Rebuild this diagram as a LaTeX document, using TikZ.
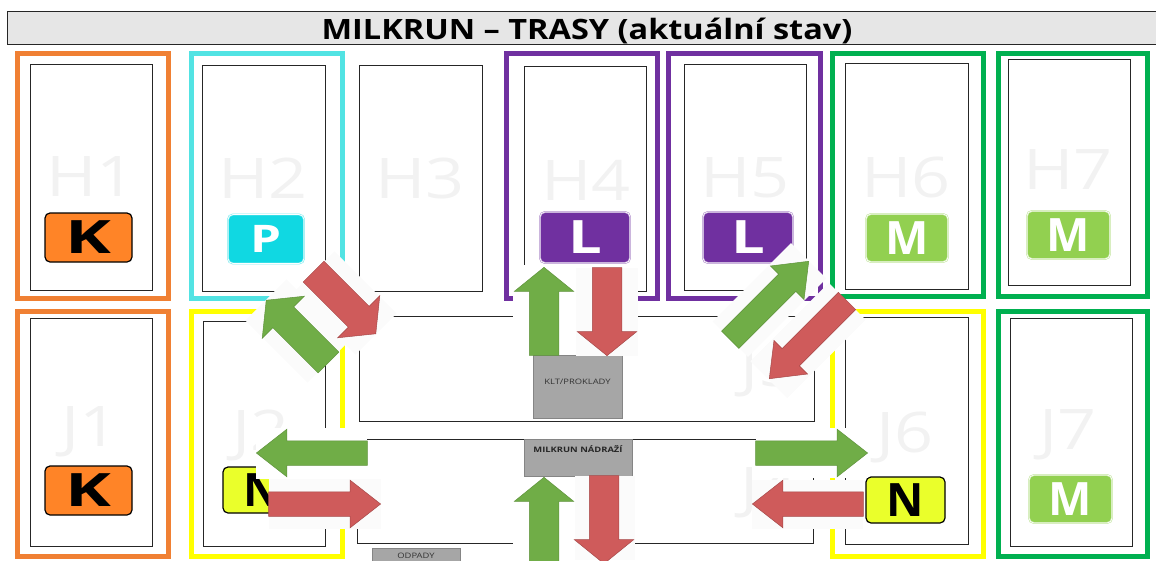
\documentclass[tikz,border=0pt]{standalone}
\usepackage{xcolor}
\usepackage{fontspec}
\setmainfont{Open Sans}
\newfontfamily\titlefont[FakeStretch=1.16]{Open Sans}
\newfontfamily\hallfont[FakeStretch=1.22]{Open Sans}
\newfontfamily\depotfont[FakeStretch=1.25]{Open Sans}
\newfontfamily\kfont[FakeStretch=1.5]{Open Sans}
\newfontfamily\lfont[FakeStretch=1.3]{Open Sans}
\usetikzlibrary{shapes.arrows}
\definecolor{headfill}{HTML}{E6E6E6}
\definecolor{ktrack}{HTML}{F08033}
\definecolor{ptrack}{HTML}{52E3E3}
\definecolor{ltrack}{HTML}{7030A0}
\definecolor{mtrack}{HTML}{00B050}
\definecolor{ntrack}{HTML}{FFFF00}
\definecolor{kfill}{HTML}{FF8427}
\definecolor{pfill}{HTML}{10D8E2}
\definecolor{mfill}{HTML}{92D050}
\definecolor{nfill}{HTML}{EAFF2B}
\definecolor{arrgreen}{HTML}{70AD47}
\definecolor{arrred}{HTML}{CF5B5B}
\definecolor{halo}{HTML}{FBFBFB}
\definecolor{depot}{HTML}{A6A6A6}
\tikzset{
  track/.style={draw=#1,line width=5pt},
  hall/.style={draw=black!85,line width=1pt},
  faint/.style={text=black!5,font=\hallfont\fontsize{56}{56}\selectfont,inner sep=0pt},
  badge/.style={rounded corners=5pt,minimum height=#1,inner sep=0pt,
    font=\fontsize{46}{46}\selectfont\bfseries},
  badge/.default=49pt,
  darkrim/.style={fill=#1,draw=black,line width=1.2pt},
  lightrim/.style={fill=#1,draw=#1!55,text=white,line width=0.6pt,double=white,double distance=0.7pt},
  patch/.style={fill=halo,inner sep=0pt},
  widearrow/.style={single arrow,anchor=tip,inner xsep=0pt,inner ysep=14.5pt,minimum width=59pt,
    single arrow head extend=15pt,single arrow tip angle=102,line width=0.5pt},
  longarrow/.style={single arrow,anchor=tip,inner xsep=0pt,inner ysep=12pt,minimum width=47pt,
    single arrow head extend=11.5pt,single arrow tip angle=76,line width=0.5pt},
  goup/.style={fill=arrgreen,draw=arrgreen!85!black},
  godown/.style={fill=arrred,draw=arrred!80!black},
  depotbox/.style={fill=depot,draw=depot!80!black,line width=1pt,inner sep=0pt},
  depottext/.style={inner sep=0pt,text=black!80,font=\depotfont\fontsize{7.5}{8}\selectfont},
}
\begin{document}
\begin{tikzpicture}[x=1pt,y=-1pt]
  \useasboundingbox (0,0) rectangle (1156,560);
  \clip (0,0) rectangle (1156,560);
  % header
  \draw[fill=headfill,draw=black!85,line width=1pt] (7,11) rectangle (1157,44);
  \node[inner sep=0pt,font=\titlefont\fontsize{28}{28}\selectfont\bfseries] (title) at (587,31) {MILKRUN – TRASY (aktuální stav)};
  % coloured tracks round the halls
  \draw[track=ktrack] (17.5,53) rectangle (168.5,298);
  \draw[track=ptrack] (191.5,53) rectangle (342.5,298);
  \draw[track=ltrack] (506.5,53) rectangle (657,298);
  \draw[track=ltrack] (668.5,53) rectangle (820,298);
  \draw[track=mtrack] (832.5,53) rectangle (983.5,296);
  \draw[track=mtrack] (998.5,53) rectangle (1147.5,296);
  \draw[track=ktrack] (17.5,311) rectangle (168.5,556);
  \draw[track=ntrack] (191.5,311) rectangle (342.5,556);
  \draw[track=ntrack] (832.5,311) rectangle (983.5,556);
  \draw[track=mtrack] (998.5,311) rectangle (1147.5,556);
  % halls
  \draw[hall] (30,64) rectangle (152,290);
  \draw[hall] (202,65.5) rectangle (325,291);
  \draw[hall] (359,65.5) rectangle (482,291);
  \draw[hall] (524,66) rectangle (646,291);
  \draw[hall] (684,64) rectangle (806,290);
  \draw[hall] (845,63) rectangle (968,289);
  \draw[hall] (1008,59) rectangle (1130,285);
  \draw[hall] (30,318) rectangle (152,546);
  \draw[hall] (203,321) rectangle (325,546);
  \draw[hall] (359,316) rectangle (814,421);
  \draw[hall] (357,439) rectangle (813,543);
  \draw[hall] (845,317) rectangle (968,544);
  \draw[hall] (1010,318) rectangle (1132,546);
  % hall names
  \foreach \name/\px/\py in {H1/91/177,H2/263/178,H3/420/178,H4/586/180,H5/745/178,H6/906/177,H7/1068/170,
    J1/90/432,J2/261/435,J5/769/372,J4/769/493,J6/905/437,J7/1068/435}
    \node[faint] (lbl\name) at (\px,\py) {\name};
  % badges
  \node[badge,darkrim=kfill,minimum width=87pt,font=\kfont\fontsize{46}{46}\selectfont\bfseries] (badgeA) at (88.5,237.5) {K};
  \node[badge,lightrim=pfill,minimum width=76pt,font=\lfont\fontsize{38}{38}\selectfont\bfseries] (badgeB) at (266,239) {P};
  \node[badge=51pt,lightrim=ltrack,minimum width=90pt,font=\lfont\fontsize{46}{46}\selectfont\bfseries] (badgeC) at (585,237.5) {L};
  \node[badge=51pt,lightrim=ltrack,minimum width=90pt,font=\lfont\fontsize{46}{46}\selectfont\bfseries] (badgeD) at (748,237.5) {L};
  \node[badge=48pt,lightrim=mfill,minimum width=82pt] (badgeE) at (907,238) {M};
  \node[badge=48pt,lightrim=mfill,minimum width=83pt] (badgeF) at (1068.5,235) {M};
  \node[badge,darkrim=kfill,minimum width=87pt,font=\kfont\fontsize{46}{46}\selectfont\bfseries] (badgeG) at (88.5,490.5) {K};
  \node[badge=46pt,darkrim=nfill,minimum width=78pt] (badgeH) at (262,490) {N};
  \node[badge=46pt,darkrim=nfill,minimum width=79pt] (badgeJ) at (905.5,500) {N};
  \node[badge=48pt,lightrim=mfill,minimum width=83pt] (badgeK) at (1070.5,499) {M};
  % depots
  \node[depotbox,minimum width=89pt,minimum height=63pt] (klt) at (577.5,386.5) {};
  \node[depottext] (klttext) at (577.5,382) {KLT/PROKLADY};
  \node[depotbox,minimum width=108pt,minimum height=37pt,anchor=north] (station) at (578,439) {};
  \node[depottext,text=black!85,font=\depotfont\fontsize{7.5}{8}\selectfont\bfseries] (stationtext) at (578,449.5) {MILKRUN NÁDRAŽÍ};
  \node[depotbox,minimum width=88pt,minimum height=30pt,anchor=north] (odpady) at (416,548) {};
  \node[depottext] (odpadytext) at (416,556) {ODPADY};
  % light patches under the arrows
  \node[patch,rotate=-45,minimum width=88pt,minimum height=58pt] (patchA) at (345,303) {};
  \node[patch,rotate=135,minimum width=88pt,minimum height=58pt] (patchB) at (297,331) {};
  \node[patch,rotate=45,minimum width=111pt,minimum height=50pt] (patchC) at (769.5,300) {};
  \node[patch,rotate=45,minimum width=111pt,minimum height=52pt] (patchD) at (808,340.5) {};
  \fill[white] (513,265) rectangle (576,355);
  \fill[halo] (576,268) rectangle (638,356);
  \fill[white] (513,477) rectangle (576,560);
  \fill[halo] (575,476) rectangle (635,560);
  \fill[white] (256,428) rectangle (367,479);
  \fill[halo] (269,479) rectangle (381,529);
  \fill[white] (756,428) rectangle (868,478);
  \fill[halo] (752,480) rectangle (863,529);
  % arrows, placed by their tips
  \node[widearrow,godown,rotate=-45,minimum height=88pt] (redA) at (376,334) {};
  \node[widearrow,goup,rotate=135,minimum height=88pt] (greenA) at (266,300) {};
  \node[widearrow,goup,rotate=90,minimum height=88pt] (greenB) at (544,267) {};
  \node[widearrow,godown,rotate=-90,minimum height=88pt] (redB) at (607,356) {};
  \node[longarrow,goup,rotate=45,minimum height=111pt] (greenC) at (809,261) {};
  \node[longarrow,godown,rotate=225,minimum height=110pt] (redC) at (769,379) {};
  \node[longarrow,goup,rotate=180,minimum height=111pt] (greenD) at (256,453) {};
  \node[longarrow,godown,minimum height=112pt] (redD) at (381,504) {};
  \node[longarrow,goup,minimum height=112pt] (greenE) at (868,453) {};
  \node[longarrow,godown,rotate=180,minimum height=111pt] (redE) at (752,504) {};
  \node[widearrow,goup,rotate=90,minimum height=88pt] (greenF) at (544,477) {};
  \node[widearrow,godown,rotate=-90,minimum height=88pt] (redF) at (604,564) {};
\end{tikzpicture}
\end{document}
